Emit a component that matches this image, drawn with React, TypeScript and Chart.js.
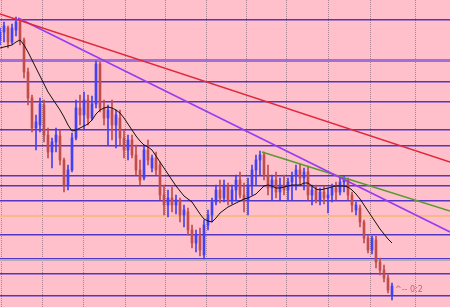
import { useEffect, useRef } from 'react';
import { Chart, registerables } from 'chart.js';

Chart.register(...registerables);

// Price data (arbitrary price units), one bar per period
const opens = [
  260, 268, 272, 258, 270, 278, 260, 228, 202, 172,
  175, 195, 165, 148, 158, 164, 140, 115, 130, 162,
  192, 185, 200, 182, 196, 236, 192, 182, 190, 175,
  182, 162, 150, 160, 145, 130, 122, 150, 132, 142,
  135, 105, 95, 102, 95, 100, 85, 88, 70, 57,
  64, 45, 75, 85, 98, 110, 102, 114, 100, 110,
  120, 105, 100, 115, 130, 140, 145, 125, 112, 120,
  108, 115, 110, 118, 124, 130, 122, 128, 105, 110,
  100, 108, 102, 105, 112, 108, 118, 120, 105, 90,
  92, 78, 62, 50, 60, 38, 30, 22, 5,
];
const highs = [
  272, 278, 274, 276, 283, 281, 262, 232, 205, 185,
  202, 200, 172, 162, 172, 170, 142, 135, 167, 200,
  205, 208, 205, 204, 239, 238, 200, 195, 200, 190,
  190, 170, 165, 165, 155, 140, 155, 160, 145, 148,
  138, 115, 110, 113, 105, 102, 95, 92, 75, 70,
  72, 80, 90, 102, 115, 120, 120, 117, 115, 125,
  128, 117, 122, 135, 145, 149, 148, 135, 125, 128,
  122, 125, 122, 128, 135, 136, 132, 134, 115, 115,
  112, 114, 112, 116, 118, 122, 124, 122, 108, 98,
  95, 80, 65, 64, 64, 42, 35, 25, 17,
];
const lows = [
  255, 258, 252, 256, 264, 255, 222, 195, 168, 150,
  168, 158, 142, 132, 148, 135, 108, 110, 128, 160,
  175, 170, 175, 180, 192, 188, 175, 155, 160, 152,
  155, 142, 140, 142, 125, 115, 120, 135, 128, 125,
  100, 85, 83, 88, 86, 78, 73, 65, 52, 48,
  44, 41, 70, 78, 95, 97, 98, 95, 96, 100,
  102, 88, 85, 105, 115, 125, 120, 105, 100, 102,
  100, 105, 100, 100, 110, 115, 110, 100, 95, 97,
  95, 96, 87, 98, 100, 105, 108, 100, 88, 85,
  73, 57, 47, 46, 32, 25, 18, 7, 0,
];
const closes = [
  268, 274, 258, 272, 278, 260, 228, 202, 172, 178,
  196, 165, 148, 158, 165, 140, 115, 130, 162, 192,
  185, 200, 182, 196, 236, 192, 182, 190, 175, 185,
  162, 150, 160, 145, 130, 120, 150, 140, 142, 130,
  105, 95, 102, 95, 100, 85, 90, 70, 57, 65,
  50, 75, 85, 98, 110, 102, 115, 100, 110, 120,
  105, 100, 115, 130, 140, 145, 125, 112, 120, 108,
  115, 110, 118, 124, 130, 122, 128, 105, 110, 100,
  108, 102, 105, 112, 108, 118, 120, 105, 95, 95,
  78, 62, 50, 62, 38, 30, 22, 10, 14,
];
// Moving average
const maValues = [
  252, 253, 254, 255, 258, 260, 255, 248, 240, 232,
  224, 216, 208, 202, 196, 190, 183, 175, 169, 170,
  172, 174, 176, 180, 186, 190, 192, 193, 192, 190,
  187, 182, 176, 170, 164, 159, 155, 153, 150, 144,
  138, 132, 126, 120, 114, 109, 104, 101, 98, 92,
  86, 81, 79, 78, 82, 87, 90, 93, 95, 97,
  99, 101, 102, 104, 106, 110, 114, 115, 114, 112,
  112, 113, 114, 115, 115, 115, 117, 117, 114, 111,
  110, 111, 112, 113, 114, 114, 114, 113, 110, 106,
  101, 95, 89, 83, 77, 71, 66, 61, 57,
];
// Horizontal price levels
const levels = [280, 239, 218, 198, 170, 154, 124, 114, 99, 84, 65, 41, 40, 26, 4];
const thickLevel = 239;
const orangeLevel = 84;
const greyLevel = 40;
// Vertical time grid (bar index positions)
const timeGrid = [5.5, 15.75, 26, 36.5, 46.25, 56.75, 66.5, 76.75, 87.25, 97.75, 109.75];
// Trend lines: [x0, x1] bar index, [y0, y1] price
const redLineX = [0, 112.5];
const redLineY = [286, 138];
const purpleLineX = [4.5, 112.5];
const purpleLineY = [282, 68];
const greenLineX = [65.5, 112.5];
const greenLineY = [148, 89];
const markerText = '^-- 0:2';
const markerValue = 10;

const UP = '#4242f4';
const DOWN = '#c04c4c';

export default function App() {
  const ref = useRef<HTMLCanvasElement | null>(null);

  useEffect(() => {
    if (!ref.current) return;
    const idx = opens.map((_, i) => i);
    const colors = idx.map((i) => (closes[i] >= opens[i] ? UP : DOWN));

    const bgPlugin = {
      id: 'bg',
      beforeDraw(chart: any) {
        const c = chart.ctx;
        c.save();
        c.fillStyle = '#ffc0cb';
        c.fillRect(0, 0, chart.width, chart.height);
        c.restore();
      },
    };
    const textPlugin = {
      id: 'marker',
      afterDraw(chart: any) {
        const c = chart.ctx;
        const xs = chart.scales.x;
        const ys = chart.scales.y;
        c.save();
        c.fillStyle = '#d85878';
        c.font = '8px "DejaVu Sans", sans-serif';
        c.textBaseline = 'middle';
        c.fillText(markerText, xs.getPixelForValue(idx.length - 1) + 3, ys.getPixelForValue(markerValue));
        c.restore();
      },
    };

    const line = (xs: number[], ys: number[], color: string) => ({
      type: 'line' as const,
      data: xs.map((x, k) => ({ x, y: ys[k] })),
      borderColor: color,
      borderWidth: 1.6,
      pointRadius: 0,
      order: 1,
    });

    const chart = new Chart(ref.current, {
      type: 'bar',
      data: {
        datasets: [
          {
            type: 'bar',
            data: idx.map((i) => ({ x: i, y: [lows[i], highs[i]] })) as any,
            backgroundColor: colors,
            barThickness: 1,
            grouped: false,
            borderWidth: 0,
            order: 4,
          },
          {
            type: 'bar',
            data: idx.map((i) => ({ x: i, y: [opens[i], closes[i]] })) as any,
            backgroundColor: colors,
            barThickness: 2,
            grouped: false,
            borderWidth: 0,
            order: 3,
          },
          {
            type: 'line',
            data: idx.map((i) => ({ x: i, y: maValues[i] })),
            borderColor: '#101010',
            borderWidth: 1,
            pointRadius: 0,
            order: 2,
          } as any,
          line(redLineX, redLineY, '#e0283c'),
          line(purpleLineX, purpleLineY, '#9a3cf0'),
          line(greenLineX, greenLineY, '#5a9a32'),
        ],
      },
      options: {
        animation: false,
        responsive: false,
        layout: { padding: 0 },
        plugins: { legend: { display: false }, tooltip: { enabled: false } },
        scales: {
          x: {
            type: 'linear',
            min: 0,
            max: 112.5,
            offset: false,
            afterBuildTicks: (s: any) => {
              s.ticks = timeGrid.map((v) => ({ value: v }));
            },
            ticks: { display: false },
            grid: { color: '#a8808f', lineWidth: 1, drawTicks: false },
            border: { display: false, dash: [1, 1] },
          },
          y: {
            type: 'linear',
            min: -7,
            max: 300,
            z: 1,
            afterBuildTicks: (s: any) => {
              s.ticks = levels.map((v) => ({ value: v }));
            },
            ticks: { display: false },
            grid: {
              drawTicks: false,
              color: (ctx: any) => {
                const v = ctx.tick?.value;
                if (v === thickLevel) return '#a070d8';
                if (v === orangeLevel) return '#f8b888';
                if (v === greyLevel) return '#b4aab0';
                return '#5535c6';
              },
              lineWidth: (ctx: any) => {
                const v = ctx.tick?.value;
                if (v === thickLevel) return 3;
                if (v === orangeLevel || v === greyLevel) return 2;
                return 1.5;
              },
            },
            border: { display: false },
          },
        },
      },
      plugins: [bgPlugin, textPlugin],
    });
    return () => chart.destroy();
  }, []);

  return (
    <div style={{ position: 'fixed', left: 0, top: 0, width: 450, height: 307 }}>
      <canvas ref={ref} width={450} height={307} />
    </div>
  );
}
